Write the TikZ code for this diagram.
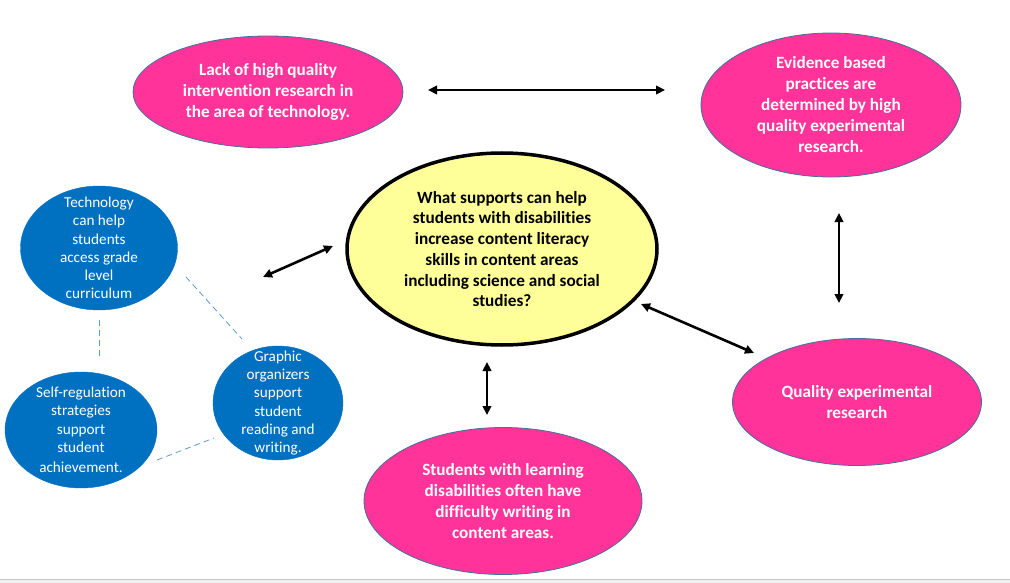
\documentclass[tikz,border=0pt]{standalone}
\usepackage{fontspec}
\setmainfont{Carlito}[Ligatures=NoCommon]
\usetikzlibrary{shapes.geometric,arrows.meta}

\definecolor{hotpink}{HTML}{FF3399}
\definecolor{rimblue}{HTML}{41719C}
\definecolor{bubblue}{HTML}{0070C0}
\definecolor{paleyellow}{HTML}{FFFF99}
\definecolor{dashblue}{HTML}{5B9BD5}

\tikzset{
    pinkbub/.style={ellipse, fill=hotpink, draw=rimblue, line width=0.8pt, inner sep=-20pt,
        text=white, align=center, font=\fontsize{17.2}{21}\selectfont\bfseries},
    bluebub/.style={ellipse, fill=bubblue, draw=bubblue, inner sep=-20pt,
        text=white, align=center, font=\fontsize{15.2}{18.3}\selectfont},
    mainbub/.style={ellipse, fill=paleyellow, draw=black, line width=3.5pt, inner sep=-20pt,
        align=center, font=\fontsize{17.2}{20.7}\selectfont\bfseries},
    twoway/.style={{Triangle[length=9pt,width=8.5pt]}-{Triangle[length=9pt,width=8.5pt]}, line width=2.6pt},
    linkdash/.style={draw=dashblue, line width=0.8pt, dash pattern=on 6pt off 4pt}
}

\begin{document}
\begin{tikzpicture}[x=1pt,y=-1pt]

\useasboundingbox (0,0) rectangle (1010,583);

%bottom strip
\fill[black!6] (0,580) rectangle (1010,583);
\draw[black!22] (0,579.5) -- (1010,579.5);

%pink bubbles
\node[pinkbub, minimum width=270pt, minimum height=112pt] (lack) at (268,92)
    {Lack of high quality\\intervention research in\\the area of technology.};
\node[pinkbub, minimum width=260pt, minimum height=144pt] (evidence) at (831,105)
    {Evidence based\\practices are\\determined by high\\quality experimental\\research.};
\node[pinkbub, minimum width=249pt, minimum height=127pt] (quality) at (857,402)
    {Quality experimental\\research};
\node[pinkbub, minimum width=278pt, minimum height=147pt] (writing) at (503,501)
    {Students with learning\\disabilities often have\\difficulty writing in\\content areas.};

%centre question
\node[mainbub, minimum width=310pt, minimum height=192pt] (question) at (502,249)
    {What supports can help\\students with disabilities\\increase content literacy\\skills in content areas\\including science and social\\studies?};

%blue bubbles
\node[bluebub, minimum width=157pt, minimum height=124pt] (techaccess) at (99,248)
    {Technology\\can help\\students\\access grade\\level\\curriculum};
\node[bluebub, minimum width=152pt, minimum height=116pt] (selfreg) at (81,430)
    {Self-regulation\\strategies\\support\\student\\[2pt]achievement.};
\node[bluebub, minimum width=130pt, minimum height=114pt] (organizers) at (278,403)
    {Graphic\\organizers\\support\\student\\reading and\\writing.};

%arrow ends
\coordinate (lackR) at (428,90);
\coordinate (evidL) at (665,90);
\coordinate (evidB) at (839,213);
\coordinate (qualT) at (839,303);
\coordinate (questR) at (641,304);
\coordinate (qualL) at (754,353);
\coordinate (questB) at (487,362);
\coordinate (writT) at (487,415);
\coordinate (techR) at (263,277);
\coordinate (questL) at (333,246);

%double arrows
\foreach \a/\b in {lackR/evidL, evidB/qualT, questR/qualL, questB/writT, techR/questL}{
    \draw[twoway] (\a) -- (\b);
}

%dashed links
\coordinate (techB) at (99,320);
\coordinate (selfT) at (99,357);
\coordinate (techSE) at (186,277);
\coordinate (orgNW) at (242,339);
\coordinate (selfE) at (157,460);
\coordinate (orgSW) at (214,438);
\foreach \a/\b in {techB/selfT, techSE/orgNW, selfE/orgSW}{
    \draw[linkdash] (\a) -- (\b);
}

\end{tikzpicture}
\end{document}
